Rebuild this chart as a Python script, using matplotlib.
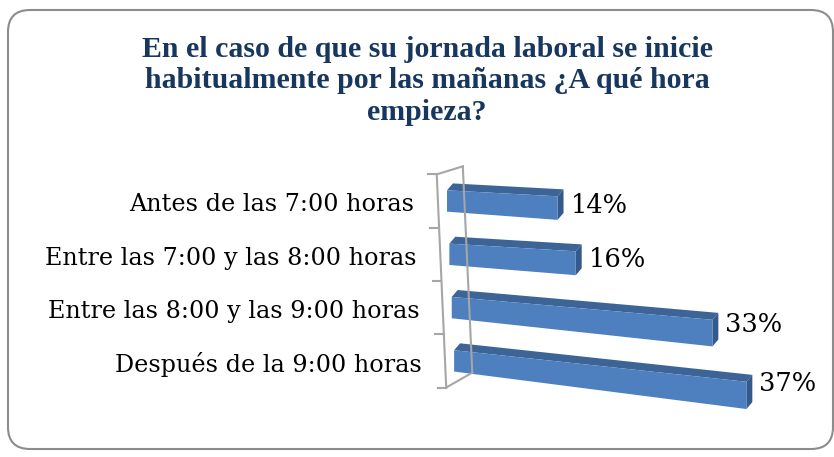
import matplotlib
matplotlib.use("Agg")
import matplotlib.pyplot as plt
from matplotlib.patches import Polygon, FancyBboxPatch
from matplotlib.transforms import IdentityTransform

# ---- data ----
categories = ["Antes de las 7:00 horas",
              "Entre las 7:00 y las 8:00 horas",
              "Entre las 8:00 y las 9:00 horas",
              "Después de la 9:00 horas"]
values = [14, 16, 33, 37]
value_labels = ["14%", "16%", "33%", "37%"]
title = ("En el caso de que su jornada laboral se inicie\n"
         "habitualmente por las mañanas ¿A qué hora\n"
         "empieza?")

# ---- style (fake 3D perspective) ----
front_col = "#4E7FBE"
top_col = "#3C6497"
side_col = "#345A8B"
axis_col = "#A6A6A6"
title_col = "#17375E"
serif_title = ["Liberation Serif", "DejaVu Serif"]
serif = ["DejaVu Serif"]
shear_per_row = 0.3      # % shift of bar origin per row
slope = [0.008, 0.009, 0.013, 0.016]   # rows per % (perspective tilt)
grow = 0.003            # height growth per %
h = 0.40                # front face height (rows)
dx, dy = 0.75, -0.13    # bar depth vector

W, H = 834, 457
fig = plt.figure(figsize=(W / 100, H / 100), dpi=100)

# rounded frame (display pixels)
frame = FancyBboxPatch((8, H - 449), 833 - 8, 449 - 10,
                       boxstyle="round,pad=0,rounding_size=22",
                       transform=IdentityTransform(), facecolor="none",
                       edgecolor="#8C8C8C", linewidth=1.5, zorder=5)
fig.patches.append(frame)

fig.text(427 / W, 1 - 81 / H, title, ha="center", va="center",
         fontsize=21.5, fontweight="bold", color=title_col,
         family=serif_title, linespacing=1.22)

# axes: x in %, y in category rows
px_per_pct = 7.9
x0_px = 447
xlim = (-6, 45)
left_px = x0_px + xlim[0] * px_per_pct
width_px = (xlim[1] - xlim[0]) * px_per_pct
row_px = 53.3
row0_px = 201
ylim = (-0.75, 3.75)
top_px = row0_px + ylim[0] * row_px
bot_px = row0_px + ylim[1] * row_px
ax = fig.add_axes([left_px / W, (H - bot_px) / H, width_px / W, (bot_px - top_px) / H])
ax.set_xlim(*xlim)
ax.set_ylim(ylim[1], ylim[0])
ax.axis("off")


def shear(r):
    return shear_per_row * r


# axis walls
r_top, r_bot = -0.5, 3.5
fx_top, fx_bot = shear(r_top) - 1.15, shear(r_bot) - 1.15
line_kw = dict(color=axis_col, lw=1.5, clip_on=False)
ax.plot([fx_top, fx_bot], [r_top, r_bot], **line_kw)
wall_dx = 3.3
wdy_top, wdy_bot = -0.15, -0.28
ax.plot([fx_top + wall_dx, fx_bot + wall_dx], [r_top + wdy_top, r_bot + wdy_bot], **line_kw)
ax.plot([fx_top, fx_top + wall_dx], [r_top, r_top + wdy_top], **line_kw)
ax.plot([fx_bot, fx_bot + wall_dx], [r_bot, r_bot + wdy_bot], **line_kw)
for k in range(len(categories) + 1):
    r = k - 0.5
    fx = shear(r) - 1.15
    ax.plot([fx - 1.1, fx], [r, r], **line_kw)

# bars
for i, (cat, v, lab) in enumerate(zip(categories, values, value_labels)):
    s = shear(i)
    k = slope[i]
    TL = (s, i - h / 2)
    TR = (s + v, i - h / 2 + k * v)
    BR = (s + v, i + h / 2 + k * v + grow * v)
    BL = (s, i + h / 2)
    d = lambda p: (p[0] + dx, p[1] + dy)
    ax.add_patch(Polygon([TL, TR, d(TR), d(TL)], closed=True, facecolor=top_col,
                         edgecolor="none", clip_on=False))
    ax.add_patch(Polygon([TR, d(TR), d(BR), BR], closed=True, facecolor=side_col,
                         edgecolor="none", clip_on=False))
    ax.add_patch(Polygon([TL, TR, BR, BL], closed=True, facecolor=front_col,
                         edgecolor="none", clip_on=False))
    ax.text(s + v + dx + 0.9, i + 0.72 * k * v, lab, ha="left", va="center",
            fontsize=18.5, family=serif, color="black", clip_on=False)
    ax.text(s - 4.1, i + 0.07, cat, ha="right", va="center",
            fontsize=17.2, family=serif, color="black", clip_on=False)

fig.savefig("out.png", dpi=100)
